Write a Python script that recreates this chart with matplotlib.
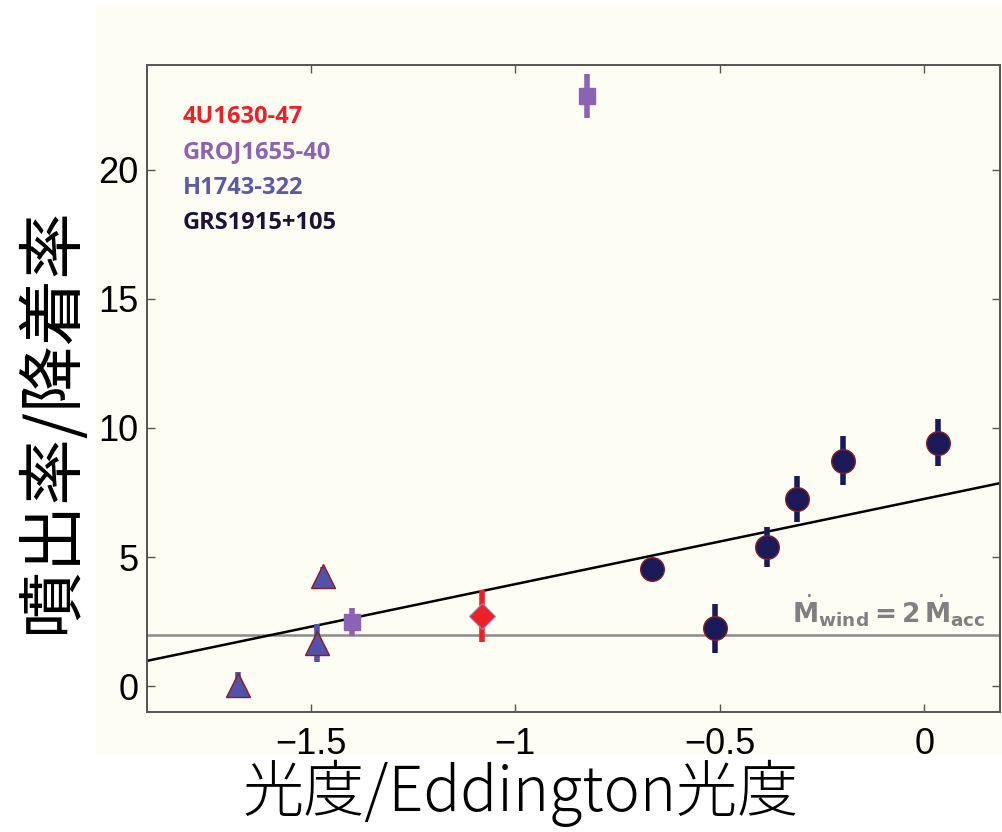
import matplotlib
matplotlib.use('Agg')
import matplotlib.pyplot as plt
from matplotlib.patches import Rectangle
import numpy as np

# luminosity (log L/L_Edd) vs wind/accretion ratio per source
lum_4u = [-1.08]
ratio_4u = [2.72]
err_4u = [1.0]

lum_gro = [-0.824, -1.398]
ratio_gro = [22.85, 2.48]
err_gro = [0.85, 0.55]

lum_h = [-1.678, -1.47, -1.485]
ratio_h = [0.05, 4.26, 1.67]
err_h = [0.5, 0.35, 0.73]

lum_grs = [-0.666, -0.512, -0.385, -0.312, -0.198, 0.034]
ratio_grs = [4.53, 2.25, 5.39, 7.25, 8.72, 9.43]
err_grs = [0.0, 0.95, 0.78, 0.89, 0.95, 0.9]

fit_slope = 3.30
fit_icpt = 7.25
wind_level = 2

names = ['4U1630-47', 'GROJ1655-40', 'H1743-322', 'GRS1915+105']
name_colors = ['#ec2026', '#8c62b4', '#5a5aac', '#1c1238']

xticks = [-1.5, -1, -0.5, 0]
xticklabels = ['\u22121.5', '\u22121', '\u22120.5', '0']
yticks = [0, 5, 10, 15, 20]

cream = '#fdfdf3'
tick_fonts = ['Liberation Sans Narrow', 'DejaVu Sans Condensed', 'Liberation Sans']
cjk_fonts = ['Noto Sans CJK JP', 'DejaVu Sans']

fig = plt.figure(figsize=(10.02, 8.32), dpi=100)
fig.patches.append(Rectangle((95 / 1002, (832 - 753) / 832), 907 / 1002, 748 / 832,
                             transform=fig.transFigure, color=cream, zorder=-10))

ax = fig.add_axes([147 / 1002, (832 - 712) / 832, 853 / 1002, 647 / 832])
ax.set_zorder(2)
ax.set_facecolor(cream)
ax.set_xlim(-1.9, 0.185)
ax.set_ylim(-1, 24.05)

xs = np.array(ax.get_xlim())
ax.plot(xs, fit_slope * xs + fit_icpt, color='black', lw=1.8, zorder=2)
ax.axhline(wind_level, color='#8a8a8a', lw=1.8, zorder=1)

ax.errorbar(lum_4u, ratio_4u, yerr=err_4u, fmt='D', ms=13, mfc='#ec2026', mec='#7f8fd0',
            mew=0.8, ecolor='#ec2026', elinewidth=4, capsize=0, zorder=4)
ax.errorbar(lum_gro, ratio_gro, yerr=err_gro, fmt='s', ms=12, mfc='#8c62b4', mec='#8c62b4',
            ecolor='#8c62b4', elinewidth=4, capsize=0, zorder=4)
ax.errorbar(lum_h, ratio_h, yerr=err_h, fmt='^', ms=17, mfc='#5252aa', mec='#8c1c1c',
            mew=1.0, ecolor='#5252aa', elinewidth=4, capsize=0, zorder=4)
ax.errorbar(lum_grs, ratio_grs, yerr=err_grs, fmt='o', ms=17, mfc='#1b1a58', mec='#8c1c1c',
            mew=1.0, ecolor='#1b1a58', elinewidth=4, capsize=0, zorder=4)

for i, (nm, c) in enumerate(zip(names, name_colors)):
    ax.text(0.042, 0.92 - i * 0.0548, nm, transform=ax.transAxes, color=c,
            fontsize=17, fontweight='bold', family='Open Sans', va='center', ha='left')

ax.text(0.15, 2.2, r'$\dot{\mathbf{M}}_{\mathbf{wind}} \mathbf{=} \mathbf{2}\,\dot{\mathbf{M}}_{\mathbf{acc}}$',
        color='#808080', fontsize=19, ha='right', va='bottom')

ax.set_xticks(xticks)
ax.set_xticklabels(xticklabels)
ax.set_yticks(yticks)
ax.tick_params(direction='in', length=6, width=1, color='#555555', top=True, right=True,
               labelsize=26)
ax.tick_params(axis='x', pad=11)
ax.tick_params(axis='y', pad=6)
for lab in ax.get_xticklabels() + ax.get_yticklabels():
    lab.set_family(tick_fonts)
for sp in ax.spines.values():
    sp.set_color('#555555')
    sp.set_linewidth(1.4)

fig.text(521 / 1002, (832 - 793) / 832, '光度/Eddington光度', ha='center', va='center',
         fontsize=44, fontweight='light', family=cjk_fonts)
fig.text(52 / 1002, (832 - 420) / 832, '噴出率/降着率', ha='center', va='center',
         rotation=90, fontsize=48, family=cjk_fonts)

fig.savefig('out.png', dpi=100, facecolor='white')
